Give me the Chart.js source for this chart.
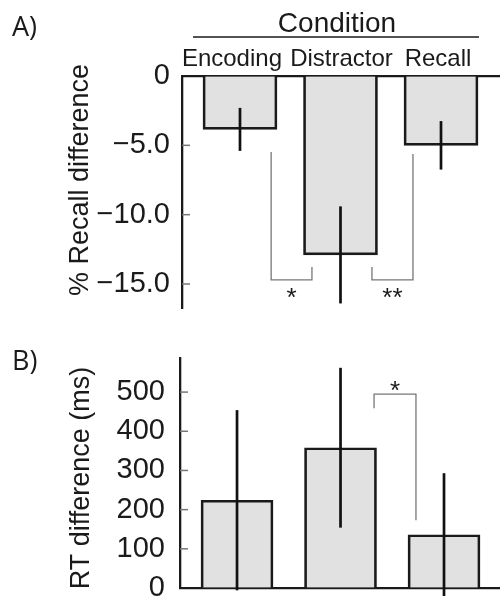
<!DOCTYPE html>
<html lang="en">
<head>
<meta charset="UTF-8">
<title>Recall and RT difference by condition</title>
<script src="https://cdn.jsdelivr.net/npm/chart.js"></script>
<style>
    body { margin: 0; background: #fff; }
    #wrap { position: relative; width: 500px; height: 596px; }
    canvas { position: absolute; left: 0; top: 0; }
</style>
</head>
<body>
<div id="wrap">
    <canvas id="chartA" width="500" height="596"></canvas>
    <canvas id="chartB" width="500" height="596"></canvas>
</div>
<script>
// data
const categories = ['Encoding', 'Distractor', 'Recall'];
const recallDiff = [-3.85, -12.9, -5.0];
const recallErr = [1.55, 3.5, 1.75];
const rtDiff = [224, 358, 136];
const rtErr = [230, 204, 157];
const recallTicks = [0, -5, -10, -15];
const rtTicks = [0, 100, 200, 300, 400, 500];

// significance brackets in data units: left x, right x, left end, join, right end
const recallBrackets = [
    { x1: 0.31, x2: 0.716, y1: -5.48, yJoin: -14.7, y2: -13.77, label: '*' },
    { x1: 1.313, x2: 1.721, y1: -13.77, yJoin: -14.7, y2: -5.62, label: '**' }
];
const rtBrackets = [
    { x1: 1.324, x2: 1.729, y1: 459, yJoin: 495, y2: 173, label: '*' }
];

// where the condition names sit on the x scale (slightly nudged apart in the figure)
const categoryLabelAt = [-0.08, 1.01, 1.97];

const FONT = "'Liberation Sans', Arial, sans-serif";
const INK = '#1a1a1a';

Chart.defaults.animation = false;
Chart.defaults.color = INK;

function decorations(opts) {
    return {
        id: 'decorations',
        afterDraw(chart) {
            const ctx = chart.ctx;
            const xs = chart.scales.x;
            const ys = chart.scales.y;
            const area = chart.chartArea;
            ctx.save();

            // inward tick marks
            ctx.strokeStyle = '#777';
            ctx.lineWidth = 1.5;
            ys.ticks.forEach(t => {
                if (t.value === 0) return;
                const y = ys.getPixelForValue(t.value);
                ctx.beginPath();
                ctx.moveTo(area.left, y);
                ctx.lineTo(area.left + 8, y);
                ctx.stroke();
            });

            // error bars
            ctx.strokeStyle = '#111';
            ctx.lineWidth = 2.7;
            opts.values.forEach((v, i) => {
                const x = xs.getPixelForValue(i);
                ctx.beginPath();
                ctx.moveTo(x, ys.getPixelForValue(v + opts.errors[i]));
                ctx.lineTo(x, ys.getPixelForValue(v - opts.errors[i]));
                ctx.stroke();
            });

            // brackets
            ctx.strokeStyle = '#777';
            ctx.lineWidth = 1.3;
            ctx.fillStyle = INK;
            ctx.font = '26px ' + FONT;
            ctx.textAlign = 'center';
            opts.brackets.forEach(b => {
                const xa = xs.getPixelForValue(b.x1), xb = xs.getPixelForValue(b.x2);
                const yj = ys.getPixelForValue(b.yJoin);
                ctx.beginPath();
                ctx.moveTo(xa, ys.getPixelForValue(b.y1));
                ctx.lineTo(xa, yj);
                ctx.lineTo(xb, yj);
                ctx.lineTo(xb, ys.getPixelForValue(b.y2));
                ctx.stroke();
                ctx.textBaseline = 'alphabetic';
                ctx.fillText(b.label, (xa + xb) / 2, yj + opts.starOffset);
            });

            // panel letter
            ctx.textAlign = 'left';
            ctx.font = "27px 'Open Sans', sans-serif";
            ctx.fillText(opts.letter, 12, opts.letterY);

            // y title
            ctx.font = '27px ' + FONT;
            ctx.translate(opts.titleX, opts.titleY);
            ctx.rotate(-Math.PI / 2);
            ctx.textAlign = 'center';
            ctx.fillText(opts.title, 0, 0);
            ctx.restore();

            if (opts.header) {
                ctx.save();
                ctx.fillStyle = INK;
                ctx.font = '28px ' + FONT;
                ctx.textAlign = 'center';
                ctx.fillText(opts.header, 337, 32);
                ctx.strokeStyle = INK;
                ctx.lineWidth = 1.6;
                ctx.beginPath();
                ctx.moveTo(193, 37);
                ctx.lineTo(479, 37);
                ctx.stroke();
                ctx.restore();
            }
        }
    };
}

function makeChart(id, cfg) {
    // scale boxes are kept wide enough to hold their labels (labels are clipped to them)
    const yWidth = 110;
    const xHeight = 40;
    const pad = Object.assign({}, cfg.padding);
    pad.left -= yWidth;
    if (cfg.xPosition === 'top') pad.top -= xHeight;

    return new Chart(document.getElementById(id), {
        type: 'bar',
        data: {
            datasets: [{
                data: cfg.values.map((v, i) => ({ x: i, y: v })),
                backgroundColor: '#e1e1e1',
                borderColor: INK,
                borderWidth: 2.7,
                barThickness: cfg.barWidth
            }]
        },
        options: {
            responsive: false,
            devicePixelRatio: 1,
            layout: { padding: pad },
            plugins: { legend: { display: false }, tooltip: { enabled: false } },
            scales: {
                x: {
                    type: 'linear',
                    offset: false,
                    position: cfg.xPosition,
                    min: cfg.xMin,
                    max: cfg.xMax,
                    afterFit: s => {
                        s.height = cfg.xPosition === 'top' ? xHeight : 0;
                        s.paddingLeft = 0; s.paddingRight = 0;
                    },
                    afterBuildTicks: s => { s.ticks = categoryLabelAt.map(v => ({ value: v })); },
                    grid: { drawOnChartArea: false, drawTicks: false },
                    border: { color: INK, width: 2.3 },
                    ticks: {
                        display: cfg.showCategories,
                        autoSkip: false,
                        maxRotation: 0,
                        padding: 2,
                        font: { family: FONT, size: 24 },
                        callback: (v, i) => categories[i]
                    }
                },
                y: {
                    min: cfg.yMin,
                    max: cfg.yMax,
                    afterFit: s => {
                        s.width = yWidth;
                        // let the end labels overhang the plot instead of shrinking it
                        s.paddingTop = 0; s.paddingBottom = 0;
                    },
                    afterBuildTicks: s => { s.ticks = cfg.ticks.map(v => ({ value: v })); },
                    grid: { drawOnChartArea: false, drawTicks: false },
                    border: { color: INK, width: 2.3 },
                    ticks: {
                        autoSkip: false,
                        padding: cfg.tickPad,
                        font: { family: FONT, size: cfg.tickSize },
                        callback: cfg.tickFormat
                    }
                }
            }
        },
        plugins: [decorations(cfg)]
    });
}

makeChart('chartA', {
    values: recallDiff, errors: recallErr, brackets: recallBrackets, starOffset: 26,
    ticks: recallTicks, yMin: -16.73, yMax: 0, xMin: -0.577, xMax: 2.587,
    padding: { top: 76, bottom: 288, left: 182, right: 0 },
    xPosition: 'top', showCategories: true, barWidth: 74,
    tickPad: 12, tickSize: 29,
    tickFormat: v => v === 0 ? '0' : '\u2212' + Math.abs(v).toFixed(1),
    letter: 'A)', letterY: 36, title: '% Recall difference', titleX: 88, titleY: 180,
    header: 'Condition'
});

makeChart('chartB', {
    values: rtDiff, errors: rtErr, brackets: rtBrackets, starOffset: 5,
    ticks: rtTicks, yMin: 0, yMax: 587, xMin: -0.551, xMax: 2.541,
    padding: { top: 358, bottom: 8, left: 180, right: 0 },
    xPosition: 'bottom', showCategories: false, barWidth: 72,
    tickPad: 15, tickSize: 29,
    tickFormat: v => String(v),
    letter: 'B)', letterY: 370, title: 'RT difference (ms)', titleX: 89, titleY: 478,
    header: null
});
</script>
</body>
</html>
